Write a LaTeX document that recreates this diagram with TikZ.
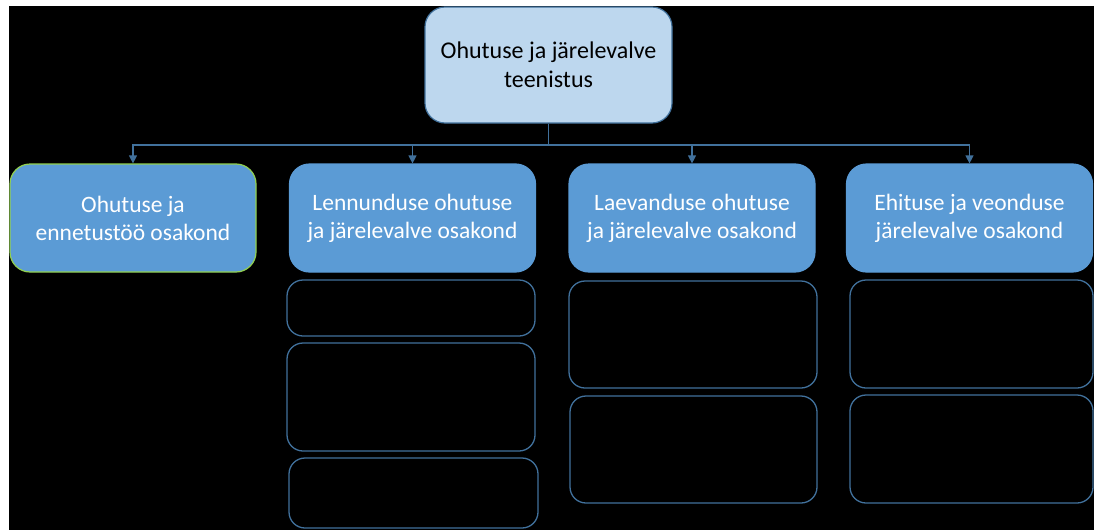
\documentclass[tikz,border=0pt]{standalone}
\usepackage{fontspec}
\setmainfont{Carlito}
\usetikzlibrary{arrows.meta}
\definecolor{topfill}{RGB}{189,215,238}
\definecolor{deptfill}{RGB}{91,155,213}
\definecolor{linecol}{RGB}{65,113,156}
\definecolor{greencol}{RGB}{146,208,80}

\begin{document}
\begin{tikzpicture}[
			x=1pt,
			y=-1pt,
			unit/.style={
				draw=linecol,
				fill=topfill,
				rounded corners=20pt,
				line width=1.2pt,
				minimum width=247pt,
				minimum height=116pt,
				inner sep=0pt,
				align=center,
				text=black,
				font=\fontsize{24}{29}\selectfont
			},
			dept/.style={
				draw=deptfill,
				fill=deptfill,
				rounded corners=20pt,
				line width=1.2pt,
				minimum width=246pt,
				minimum height=108pt,
				inner sep=0pt,
				align=center,
				text=white,
				font=\fontsize{23.5}{28}\selectfont
			},
			slot/.style={
				draw=linecol,
				rounded corners=16pt,
				line width=1.3pt,
				inner sep=0pt
			},
			link/.style={
				draw=linecol,
				line width=1.2pt
			}
			]
			% Background
			\useasboundingbox (0,0) rectangle (1094,530);
			\fill[white] (0,0) rectangle (1094,530);
			\fill[black] (9,6) rectangle (1094,530);
			
			% Boxes
			\node[unit] (top) at (548.5,65) {Ohutuse ja järelevalve\\teenistus};
			\node[dept, draw=greencol] (d1) at (133,218) {Ohutuse ja\\ennetustöö osakond};
			\node[dept] (d2) at (412.5,218) {Lennunduse ohutuse\\ja järelevalve osakond};
			\node[dept] (d3) at (692,218) {Laevanduse ohutuse\\ja järelevalve osakond};
			\node[dept] (d4) at (969.5,218) {Ehituse ja veonduse\\järelevalve osakond};
			
			% Empty boxes
			\node[slot, minimum width=248pt, minimum height=56pt] (a2) at (411,308) {};
			\node[slot, minimum width=248pt, minimum height=108pt] (b2) at (411,397) {};
			\node[slot, minimum width=249pt, minimum height=70pt] (c2) at (413.5,493) {};
			\node[slot, minimum width=248pt, minimum height=107pt] (a3) at (693,334.5) {};
			\node[slot, minimum width=247pt, minimum height=107pt] (b3) at (693.5,449.5) {};
			\node[slot, minimum width=243pt, minimum height=108pt] (a4) at (971.5,334) {};
			\node[slot, minimum width=243pt, minimum height=108pt] (b4) at (971.5,449) {};
			
			% Connectors
			\coordinate (bus) at (548.5,145);
			\draw[link] (top.south) -- (bus);
			\foreach \d in {d1,d2,d3,d4}
				\draw[link, -{Triangle[width=8pt,length=8pt]}] (bus) -| (\d.north);
		\end{tikzpicture}
\end{document}
